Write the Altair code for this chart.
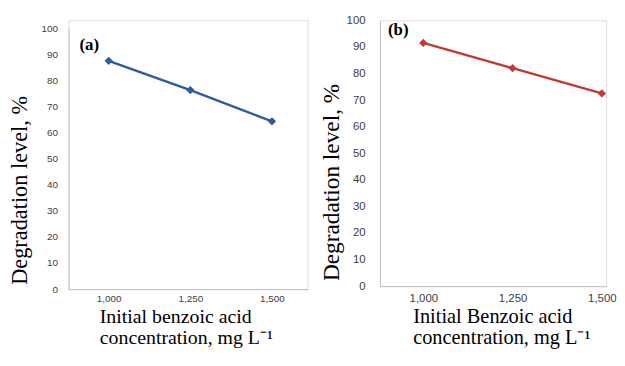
import altair as alt
import pandas as pd

conc = [1000, 1250, 1500]
deg_a = [87.5, 76.3, 64.3]
deg_b = [91.5, 82.0, 72.5]

df_a = pd.DataFrame({"conc": conc, "deg": deg_a})
df_b = pd.DataFrame({"conc": conc, "deg": deg_b})

SERIF = "Liberation Serif"
SANS = "Liberation Sans"


def panel(df, color, label, w, h, yrange, xdom, tick_fs, ytitle_fs, xtitle_fs,
          xtitle_lines, lab_x, lab_y, lab_pad_y, lab_pad_x, ytitle_pad, xt_x, xt_y, yt_y):
    x = alt.X("conc:Q", scale=alt.Scale(domain=xdom, nice=False, zero=False),
              axis=alt.Axis(values=conc, format=",d", ticks=False, grid=False,
                            labelFont=SANS, labelFontSize=tick_fs, labelColor="#404040",
                            labelPadding=lab_pad_x, domainColor="#BFBFBF", labelFlush=False,
                            title=xtitle_lines, titleFont=SERIF, titleFontSize=xtitle_fs,
                            titleFontWeight="normal", titleColor="black",
                            titleAlign="left", titleBaseline="alphabetic",
                            titleX=xt_x, titleY=xt_y, titleLineHeight=20.5))
    yscale = alt.Scale(domain=[0, 100], nice=False)
    if yrange is not None:
        yscale = alt.Scale(domain=[0, 100], nice=False, range=yrange)
    y = alt.Y("deg:Q", scale=yscale,
              axis=alt.Axis(values=list(range(0, 101, 10)), ticks=False, grid=False,
                            labelFont=SANS, labelFontSize=tick_fs, labelColor="#404040",
                            labelPadding=lab_pad_y, domainColor="#BFBFBF",
                            title="Degradation level, %", titleFont=SERIF,
                            titleFontSize=ytitle_fs, titleFontWeight="normal",
                            titleColor="black", titlePadding=ytitle_pad, titleY=yt_y))
    base = alt.Chart(df).encode(x=x, y=y)
    line = base.mark_line(color=color, strokeWidth=2.5)
    pts = base.mark_point(shape="diamond", filled=True, color=color, size=70, opacity=1)
    txt = alt.Chart(pd.DataFrame({"t": [label]})).mark_text(
        font=SERIF, fontSize=17, fontWeight="bold", color="black"
    ).encode(text="t:N", x=alt.value(lab_x), y=alt.value(lab_y))
    return (line + pts + txt).properties(width=w, height=h)


pa = panel(df_a, "#2F5A9E", "(a)", 241, 271, [271, 8], [877, 1609], 10, 22.5, 20,
           ["Initial benzoic acid", "concentration, mg L\u207b\u00b9"],
           21, 24.5, 11, 4.5, 9.5, 31, 34, 171)
pb = panel(df_b, "#C23A35", "(b)", 228, 268, None, [878.6, 1511.9], 11.5, 23.5, 20.5,
           ["Initial Benzoic acid", "concentration, mg L\u207b\u00b9"],
           18.5, 10, 15, 6.5, 3, 33, 37, 163)

chart = alt.hconcat(pa, pb, spacing=10).properties(
    padding={"left": 0, "top": 4, "right": 0, "bottom": 0}
).configure_view(stroke=None).configure(background="white")

chart.save("out.html", embed_options={"renderer": "svg", "actions": False})
